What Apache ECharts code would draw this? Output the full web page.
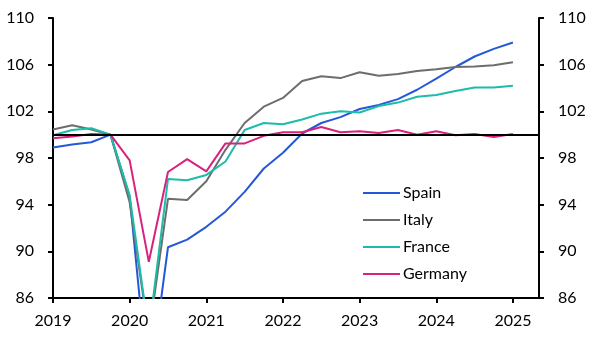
<!DOCTYPE html>
<html>
<head>
<meta charset="utf-8">
<script src="https://cdn.jsdelivr.net/npm/echarts@6/dist/echarts.min.js"></script>
<style>
  html, body { margin: 0; padding: 0; background: #fff; }
  #chart { width: 600px; height: 354px; }
</style>
</head>
<body>
<div id="chart"></div>
<script>
// quarterly positions (2019Q4 = 100)
var quarters = [2019, 2019.25, 2019.5, 2019.75, 2020, 2020.25, 2020.5, 2020.75,
    2021, 2021.25, 2021.5, 2021.75, 2022, 2022.25, 2022.5, 2022.75,
    2023, 2023.25, 2023.5, 2023.75, 2024, 2024.25, 2024.5, 2024.75, 2025];
var yearTicks = [2019, 2020, 2021, 2022, 2023, 2024, 2025];

var spain = [98.9, 99.15, 99.35, 100, 94.7, 78.0, 90.35, 91.0,
    92.1, 93.4, 95.1, 97.1, 98.45, 100.1, 101.0, 101.5,
    102.2, 102.55, 103.05, 103.85, 104.8, 105.8, 106.7, 107.35, 107.9];
var italy = [100.45, 100.8, 100.45, 100, 94.2, 82.8, 94.5, 94.4,
    96.0, 98.7, 101.0, 102.4, 103.15, 104.6, 105.0, 104.85,
    105.35, 105.05, 105.2, 105.45, 105.6, 105.8, 105.85, 105.95, 106.2];
var france = [99.95, 100.4, 100.55, 100, 94.8, 83.0, 96.2, 96.1,
    96.55, 97.7, 100.4, 101.0, 100.9, 101.3, 101.8, 102.0,
    101.9, 102.45, 102.75, 103.25, 103.4, 103.75, 104.05, 104.05, 104.2];
var germany = [99.7, 99.85, 100.05, 100, 97.8, 89.1, 96.8, 97.9,
    96.85, 99.25, 99.25, 99.9, 100.2, 100.2, 100.65, 100.2,
    100.3, 100.15, 100.4, 100.0, 100.3, 99.95, 100.05, 99.8, 100.05];

function pairs(vals) {
    return vals.map(function (v, i) { return [quarters[i], v]; });
}

var chart = echarts.init(document.getElementById('chart'));

var labelFont = { fontFamily: 'Lato', fontSize: 16, color: '#000' };

function yAxisSide(side, margin) {
    return {
        type: 'value',
        position: side,
        min: 86,
        max: 110,
        interval: 4,
        splitLine: { show: false },
        axisLine: { show: true, lineStyle: { color: '#000', width: 2 } },
        axisTick: { show: true, inside: false, length: 5, lineStyle: { color: '#000', width: 2 } },
        axisLabel: Object.assign({ margin: margin }, labelFont)
    };
}

function lineSeries(name, vals, color) {
    return {
        name: name,
        type: 'line',
        data: pairs(vals),
        symbol: 'none',
        clip: true,
        lineStyle: { color: color, width: 2 },
        itemStyle: { color: color },
        z: 3
    };
}

var option = {
    animation: false,
    grid: { left: 53, right: 61, top: 18, bottom: 56 },
    legend: {
        orient: 'vertical',
        left: 358,
        top: 180,
        itemWidth: 37,
        itemHeight: 2,
        itemGap: 11,
        icon: 'rect',
        textStyle: { fontFamily: 'Lato', fontSize: 16, color: '#000', padding: [0, 0, 0, -2] },
        data: ['Spain', 'Italy', 'France', 'Germany']
    },
    xAxis: {
        type: 'value',
        min: 2019,
        max: 2025.34,
        interval: 1,
        splitLine: { show: false },
        axisLine: { show: true, onZero: false, lineStyle: { color: '#000', width: 2 } },
        axisTick: { show: true, length: 5, customValues: yearTicks, lineStyle: { color: '#000', width: 2 } },
        axisLabel: Object.assign({
            margin: 15,
            customValues: yearTicks,
            formatter: function (v) { return v % 1 === 0 ? String(v) : ''; }
        }, labelFont)
    },
    yAxis: [
        yAxisSide('left', 19),
        yAxisSide('right', 19)
    ],
    series: [
        {
            name: 'base',
            type: 'line',
            data: [],
            silent: true,
            z: 2,
            markLine: {
                silent: true,
                symbol: 'none',
                label: { show: false },
                lineStyle: { color: '#000', width: 2, type: 'solid' },
                data: [{ yAxis: 100 }]
            }
        },
        lineSeries('Spain', spain, '#2458d8'),
        lineSeries('Italy', italy, '#6d6d6d'),
        lineSeries('France', france, '#1cbcaa'),
        lineSeries('Germany', germany, '#d8227e')
    ]
};

chart.setOption(option);
</script>
</body>
</html>
